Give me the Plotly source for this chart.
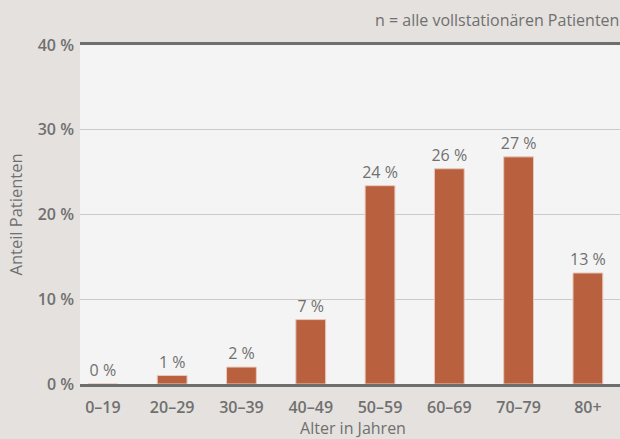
import plotly.graph_objects as go

categories = ["0–19", "20–29", "30–39", "40–49", "50–59", "60–69", "70–79", "80+"]
values = [0.0, 1.0, 2.0, 7.6, 23.4, 25.4, 26.8, 13.1]
labels = ["0 %", "1 %", "2 %", "7 %", "24 %", "26 %", "27 %", "13 %"]
y_ticks = [0, 10, 20, 30, 40]
y_tick_text = ["0 %", "10 %", "20 %", "30 %", "40 %"]

gray = "#707070"
font_family = "Open Sans, Noto Sans, sans-serif"

fig = go.Figure()
fig.add_trace(go.Bar(
    x=categories, y=values, text=labels, textposition="outside",
    texttemplate="%{text}", cliponaxis=False, constraintext="none",
    textfont=dict(family=font_family, size=16, color=gray),
    marker=dict(color="#B9603F", line=dict(color="#E8C9BC", width=1)),
    width=0.43,
))

fig.update_layout(
    width=626, height=439,
    margin=dict(l=80, r=0, t=45, b=55),
    paper_bgcolor="#E4E1DE", plot_bgcolor="#F4F4F4",
    font=dict(family=font_family, color=gray, size=16),
    showlegend=False,
    xaxis=dict(
        range=[-0.33, 7.55],
        showline=True, mirror=True, linecolor="#6E6E6E", linewidth=3,
        tickfont=dict(size=16, color=gray, weight=600),
        ticks="", showgrid=False, ticklabelstandoff=7,
        title=dict(text="Alter in Jahren", font=dict(size=16, color=gray), standoff=0),
        fixedrange=True,
    ),
    yaxis=dict(
        range=[0, 40], tickmode="array", tickvals=y_ticks, ticktext=y_tick_text,
        tickfont=dict(size=16, color=gray, weight=600),
        showgrid=True, gridcolor="#CACACA", gridwidth=1,
        zeroline=False, ticks="", ticklabelstandoff=5,
        title=dict(text="Anteil Patienten", font=dict(size=16.5, color=gray), standoff=10),
    ),
    annotations=[dict(
        text="n = alle vollstationären Patienten", xref="paper", yref="paper",
        x=1.0, y=1.0, xanchor="right", yanchor="bottom", yshift=12, xshift=-5,
        showarrow=False, font=dict(size=16, color=gray),
    )],
)

post = ("document.body.style.margin='0';document.body.style.overflow='hidden';"
        "document.body.style.background='#E4E1DE';")
fig.write_html("out.html", post_script=post, config={"displayModeBar": False})
